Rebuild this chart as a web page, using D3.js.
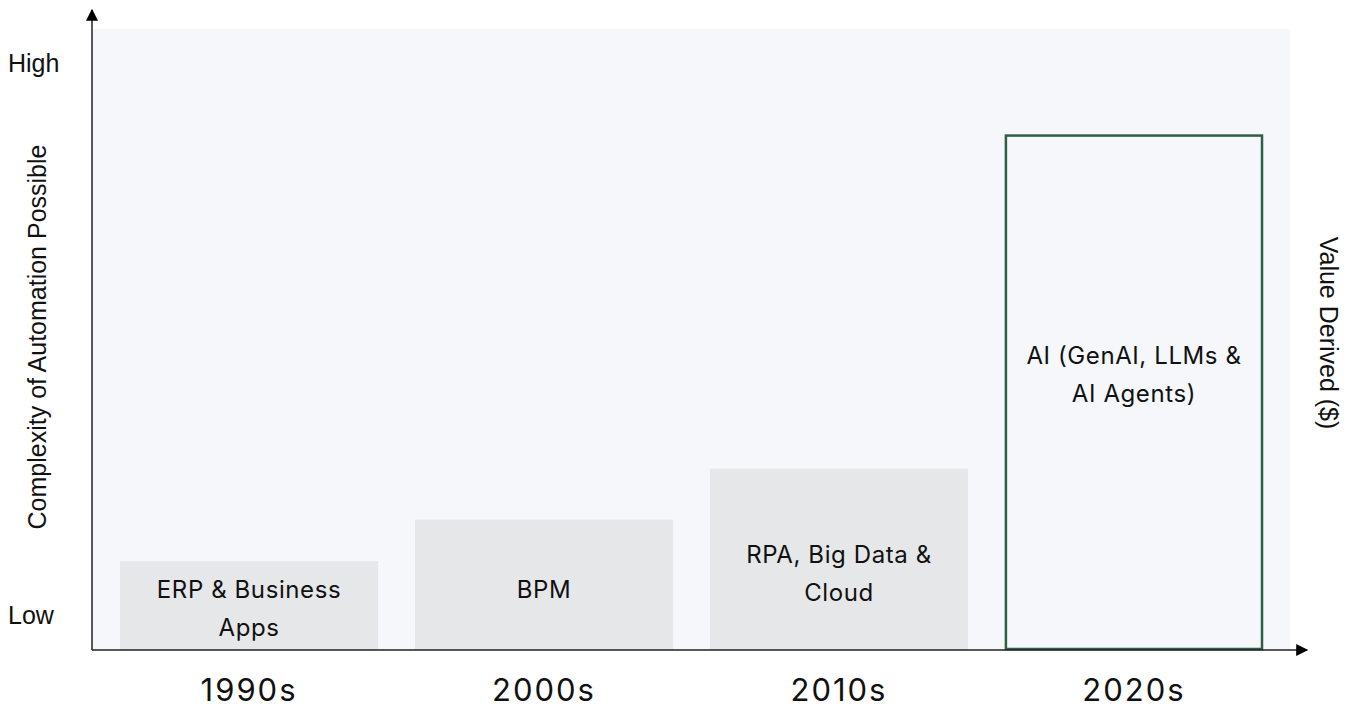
<!DOCTYPE html>
<html>
<head>
<meta charset="utf-8">
<script src="https://cdn.jsdelivr.net/npm/d3@7"></script>
<style>
  body { margin: 0; background: #fff; }
  .barLabel { font-family: "Inter", "DejaVu Sans", sans-serif; font-size: 24px; letter-spacing: 0.6px; fill: #111; }
  .decade { font-family: "Inter", "DejaVu Sans", sans-serif; font-size: 31px; letter-spacing: 2px; fill: #111; }
  .side { font-family: "Liberation Sans", Arial, sans-serif; font-size: 25px; fill: #111; }
</style>
</head>
<body>
<svg class="chart" width="1352" height="711"></svg>
<script>
var decades = ["1990s", "2000s", "2010s", "2020s"];
var labels = [["ERP & Business", "Apps"], ["BPM"], ["RPA, Big Data &", "Cloud"], ["AI (GenAI, LLMs &", "AI Agents)"]];
var values = [14.3, 21, 29.2, 83];
var highlight = [false, false, false, true];
var levelTicks = ["Low", "High"];

var svg = d3.select(".chart");
var area = {left: 93, right: 1290, top: 29, bottom: 650};

var scaleX = d3.scaleBand()
               .domain(decades)
               .range([area.left, area.right])
               .paddingInner(0.125)
               .paddingOuter(0.0915);

var scaleY = d3.scaleLinear()
               .domain([0, 100])
               .range([area.bottom, area.top]);

// arrow heads
var defs = svg.append("defs");
defs.append("marker")
    .attr("id", "arrow")
    .attr("viewBox", "0 0 10 10")
    .attr("refX", 9).attr("refY", 5)
    .attr("markerWidth", 13).attr("markerHeight", 12)
    .attr("markerUnits", "userSpaceOnUse")
    .attr("orient", "auto")
    .append("path")
    .attr("d", "M0,0L10,5L0,10z")
    .attr("fill", "#000");

// panel
svg.append("rect")
   .attr("x", area.left).attr("y", area.top)
   .attr("width", area.right - area.left).attr("height", area.bottom - area.top)
   .attr("fill", "#f5f7fb");

// bars
var bars = svg.selectAll(".bar").data(decades).enter().append("g").attr("class", "bar");
bars.append("rect")
    .attr("x", function(d, i){ return scaleX(d) + (highlight[i] ? 1 : 0); })
    .attr("width", function(d, i){ return scaleX.bandwidth() - (highlight[i] ? 2 : 0); })
    .attr("y", function(d, i){ return scaleY(values[i]) + (highlight[i] ? 1 : 0); })
    .attr("height", function(d, i){ return scaleY(0) - scaleY(values[i]) - (highlight[i] ? 2 : 0); })
    .attr("fill", function(d, i){ return highlight[i] ? "#f5f7fb" : "#e6e7e9"; })
    .attr("stroke", function(d, i){ return highlight[i] ? "#2f5e46" : "none"; })
    .attr("stroke-width", 2.5);

// label nudge from the bar's middle (px)
var labelNudge = [3, 5, 14, -18];
bars.append("text")
    .attr("class", "barLabel")
    .attr("text-anchor", "middle")
    .each(function(d, i){
        var lines = labels[i];
        var cy = scaleY(values[i] / 2) + labelNudge[i];
        var t = d3.select(this);
        lines.forEach(function(s, j){
            t.append("tspan")
             .attr("x", scaleX(d) + scaleX.bandwidth() / 2)
             .attr("y", cy + (j - (lines.length - 1) / 2) * 38)
             .attr("dy", "0.35em")
             .text(s);
        });
    });

// decade labels
svg.selectAll(".decade").data(decades).enter().append("text")
   .attr("class", "decade")
   .attr("text-anchor", "middle")
   .attr("x", function(d){ return scaleX(d) + scaleX.bandwidth() / 2; })
   .attr("y", 690)
   .attr("dy", "0.35em")
   .text(function(d){ return d; });

// axes
svg.append("line")
   .attr("x1", area.left - 1).attr("y1", area.bottom)
   .attr("x2", area.left - 1).attr("y2", 10)
   .attr("stroke", "#222").attr("stroke-width", 1.5)
   .attr("marker-end", "url(#arrow)");
svg.append("line")
   .attr("x1", area.left - 1).attr("y1", area.bottom)
   .attr("x2", 1307).attr("y2", area.bottom)
   .attr("stroke", "#222").attr("stroke-width", 1.5)
   .attr("marker-end", "url(#arrow)");

// Low / High
var levelY = d3.scaleLinear().domain([0, 1]).range([615, 63]);
svg.selectAll(".side.level").data(levelTicks).enter().append("text")
   .attr("class", "side level")
   .attr("x", 8)
   .attr("y", function(d, i){ return levelY(i); })
   .attr("dy", "0.35em")
   .text(function(d){ return d; });

svg.append("text")
   .attr("class", "side")
   .attr("font-size", "26px")
   .attr("text-anchor", "middle")
   .attr("transform", "translate(37,337) rotate(-90)")
   .attr("dy", "0.35em")
   .text("Complexity of Automation Possible");

svg.append("text")
   .attr("class", "side")
   .attr("text-anchor", "middle")
   .attr("transform", "translate(1329,333) rotate(90)")
   .attr("dy", "0.35em")
   .text("Value Derived ($)");
</script>
</body>
</html>
